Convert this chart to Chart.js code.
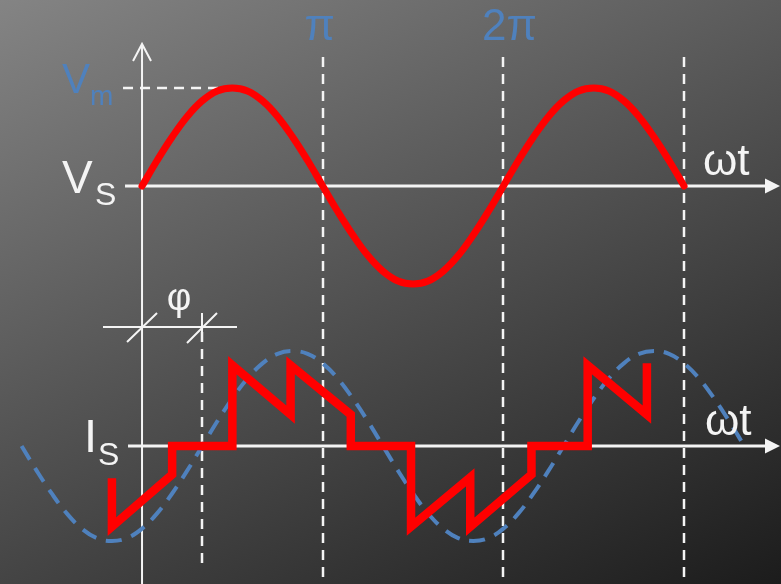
<!DOCTYPE html>
<html>
<head>
<meta charset="utf-8">
<script src="https://cdn.jsdelivr.net/npm/chart.js@4"></script>
<style>
	html, body { margin: 0; padding: 0; background: #444; }
	#wrap { width: 781px; height: 584px; }
</style>
</head>
<body>
<div id="wrap"><canvas id="chart" width="781" height="584"></canvas></div>
<script>
// supply voltage, read every 15 deg of wt
const angle_v = [0, 15, 30, 45, 60, 75, 90, 105, 120, 135, 150, 165, 180, 195, 210, 225, 240, 255, 270, 285, 300, 315, 330, 345, 360, 375, 390, 405, 420, 435, 450, 465, 480, 495, 510, 525, 540];
const voltage = [0, 0.26, 0.5, 0.71, 0.87, 0.97, 1, 0.97, 0.87, 0.71, 0.5, 0.26, 0, -0.26, -0.5, -0.71, -0.87, -0.97, -1, -0.97, -0.87, -0.71, -0.5, -0.26, 0, 0.26, 0.5, 0.71, 0.87, 0.97, 1, 0.97, 0.87, 0.71, 0.5, 0.26, 0];

// fundamental of the line current (dashed blue), lagging by phi
const angle_fund = [-120, -105, -90, -75, -60, -45, -30, -15, 0, 15, 30, 45, 60, 75, 90, 105, 120, 135, 150, 165, 180, 195, 210, 225, 240, 255, 270, 285, 300, 315, 330, 345, 360, 375, 390, 405, 420, 435, 450, 465, 480, 495, 510, 525, 540, 555, 570, 585, 600];
const current_fund = [0, -0.26, -0.5, -0.71, -0.87, -0.97, -1, -0.97, -0.87, -0.71, -0.5, -0.26, 0, 0.26, 0.5, 0.71, 0.87, 0.97, 1, 0.97, 0.87, 0.71, 0.5, 0.26, 0, -0.26, -0.5, -0.71, -0.87, -0.97, -1, -0.97, -0.87, -0.71, -0.5, -0.26, 0, 0.26, 0.5, 0.71, 0.87, 0.97, 1, 0.97, 0.87, 0.71, 0.5, 0.26, 0];

// stepped line current (red)
const angle_is = [-30, -30, 30, 30, 90, 90, 148, 148, 208, 208, 268, 268, 327, 327, 388, 388, 444, 444, 503, 503];
const current_is = [-0.34, -0.85, -0.3, 0, 0, 0.85, 0.33, 0.85, 0.33, 0, 0, -0.85, -0.33, -0.85, -0.3, 0, 0, 0.85, 0.33, 0.87];

const mark_angles = [180, 360, 540];
const mark_labels = ['π', '2π', ''];
const phi = 60;

const BLUE = '#4f81bd';
const WHITE = '#f4f4f4';
const FONT = '"Liberation Sans", Arial, sans-serif';

function to_points(xs, ys) {
	return xs.map((x, i) => ({x: x, y: ys[i]}));
}

function arrow_right(ctx, x, y) {
	ctx.beginPath();
	ctx.moveTo(x, y);
	ctx.lineTo(x - 15, y - 7.5);
	ctx.lineTo(x - 15, y + 7.5);
	ctx.closePath();
	ctx.fill();
}

const decor = {
	id: 'decor',
	beforeDraw(chart) {
		const ctx = chart.ctx;
		let g = ctx.createLinearGradient(0, 0, 368, 778);
		g.addColorStop(0, '#848484');
		g.addColorStop(1, '#1c1c1c');
		ctx.save();
		ctx.fillStyle = g;
		ctx.fillRect(0, 0, chart.width, chart.height);
		ctx.restore();
	},
	beforeDatasetsDraw(chart) {
		const ctx = chart.ctx;
		const sx = chart.scales.x;
		const yv = chart.scales.yV;
		const yi = chart.scales.yI;
		const x0 = sx.getPixelForValue(0);
		const v0 = yv.getPixelForValue(0);
		const i0 = yi.getPixelForValue(0);
		const H = chart.height;

		ctx.save();
		ctx.strokeStyle = WHITE;
		ctx.fillStyle = WHITE;
		ctx.lineWidth = 2.5;

		// dashed verticals at pi, 2pi, 3pi
		ctx.setLineDash([10, 7]);
		mark_angles.forEach(a => {
			const px = Math.round(sx.getPixelForValue(a));
			ctx.beginPath();
			ctx.moveTo(px, 57);
			ctx.lineTo(px, H);
			ctx.stroke();
		});
		// phi line
		const xp = Math.round(sx.getPixelForValue(phi));
		ctx.beginPath();
		ctx.moveTo(xp, 332);
		ctx.lineTo(xp, 566);
		ctx.stroke();
		// Vm line
		ctx.beginPath();
		ctx.moveTo(x0 - 19, yv.getPixelForValue(1));
		ctx.lineTo(sx.getPixelForValue(90), yv.getPixelForValue(1));
		ctx.stroke();
		ctx.setLineDash([]);

		// axes
		ctx.lineWidth = 2;
		ctx.beginPath();
		ctx.moveTo(x0, 44);
		ctx.lineTo(x0, H);
		ctx.moveTo(x0 - 9, 61);
		ctx.lineTo(x0, 44);
		ctx.lineTo(x0 + 9, 61);
		ctx.stroke();

		ctx.lineWidth = 3;
		ctx.beginPath();
		ctx.moveTo(x0 - 17, v0);
		ctx.lineTo(768, v0);
		ctx.moveTo(x0 - 14, i0);
		ctx.lineTo(768, i0);
		ctx.stroke();
		arrow_right(ctx, 780, v0);
		arrow_right(ctx, 780, i0);

		// phi marker
		ctx.lineWidth = 2;
		ctx.beginPath();
		ctx.moveTo(103, 327);
		ctx.lineTo(237, 327);
		ctx.moveTo(x0 - 15, 342);
		ctx.lineTo(x0 + 15, 313);
		ctx.moveTo(xp - 15, 343);
		ctx.lineTo(xp + 15, 313);
		ctx.moveTo(xp, 313);
		ctx.lineTo(xp, 342);
		ctx.stroke();
		ctx.restore();
	},
	afterDraw(chart) {
		const ctx = chart.ctx;
		const sx = chart.scales.x;
		const x0 = sx.getPixelForValue(0);
		ctx.save();
		ctx.textBaseline = 'alphabetic';

		// angle labels
		ctx.fillStyle = BLUE;
		ctx.font = '44px ' + FONT;
		ctx.textAlign = 'center';
		mark_labels.forEach((t, i) => {
			const off = t.length > 1 ? 6 : -3;
			ctx.fillText(t, sx.getPixelForValue(mark_angles[i]) + off, 40);
		});

		ctx.textAlign = 'left';
		ctx.font = '42px ' + FONT;
		ctx.fillText('V', x0 - 80, 93);
		ctx.font = '28px ' + FONT;
		ctx.fillText('m', x0 - 52, 105);

		ctx.fillStyle = WHITE;
		ctx.font = '46px ' + FONT;
		ctx.fillText('V', x0 - 80, 193);
		ctx.font = '32px ' + FONT;
		ctx.fillText('S', x0 - 47, 205);

		ctx.font = '47px ' + FONT;
		ctx.fillText('I', x0 - 58, 452);
		ctx.font = '32px ' + FONT;
		ctx.fillText('S', x0 - 44, 465);

		ctx.font = '44px ' + FONT;
		ctx.fillText('ωt', 703, 175);
		ctx.fillText('ωt', 705, 435);

		ctx.font = '38px ' + FONT;
		ctx.textAlign = 'center';
		ctx.fillText('φ', 179, 310);
		ctx.restore();
	}
};

const config = {
	type: 'line',
	data: {
		datasets: [
			{
				data: to_points(angle_is, current_is),
				yAxisID: 'yI',
				borderColor: '#ff0000',
				borderWidth: 8.5,
				borderJoinStyle: 'miter',
				borderCapStyle: 'butt',
				tension: 0,
				pointRadius: 0
			},
			{
				data: to_points(angle_v, voltage),
				yAxisID: 'yV',
				borderColor: '#ff0000',
				borderWidth: 7,
				borderCapStyle: 'round',
				tension: 0.4,
				pointRadius: 0
			},
			{
				data: to_points(angle_fund, current_fund),
				yAxisID: 'yI',
				borderColor: BLUE,
				borderWidth: 4,
				borderDash: [16, 10],
				tension: 0.4,
				pointRadius: 0
			}
		]
	},
	options: {
		responsive: false,
		animation: false,
		devicePixelRatio: 1,
		layout: { padding: 0 },
		plugins: {
			legend: { display: false },
			tooltip: { enabled: false }
		},
		scales: {
			x: { type: 'linear', min: -141.5, max: 636.6, display: false },
			yV: { type: 'linear', min: -4.061, max: 1.898, display: false },
			yI: { type: 'linear', min: -1.453, max: 4.695, display: false }
		}
	},
	plugins: [decor]
};

new Chart(document.getElementById('chart'), config);
</script>
</body>
</html>
